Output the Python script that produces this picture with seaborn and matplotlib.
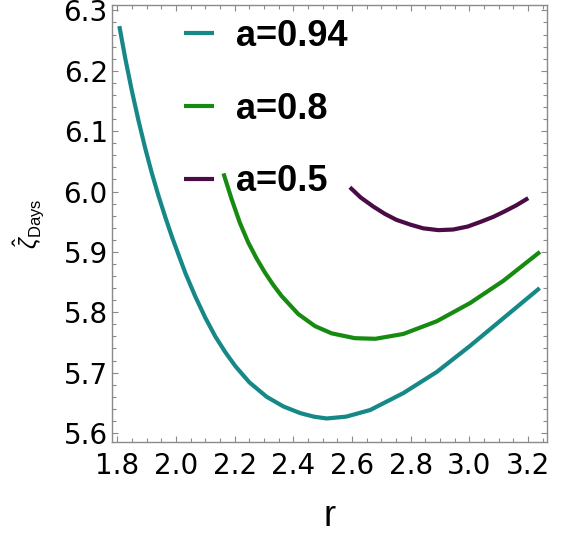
import numpy as np
import pandas as pd
import matplotlib
matplotlib.use("Agg")
import matplotlib.pyplot as plt
from matplotlib.ticker import MultipleLocator
import seaborn as sns

# ---- data ----
r_094 = [1.807, 1.827, 1.850, 1.873, 1.895, 1.918, 1.941, 1.964, 1.987, 2.009, 2.032,
         2.066, 2.100, 2.134, 2.168, 2.202, 2.250, 2.309, 2.366, 2.423, 2.470, 2.514,
         2.580, 2.662, 2.775, 2.889, 3.002, 3.116, 3.240]
z_094 = [6.274, 6.221, 6.166, 6.116, 6.072, 6.030, 5.992, 5.957, 5.924, 5.895, 5.865,
         5.826, 5.791, 5.760, 5.734, 5.711, 5.684, 5.660, 5.644, 5.633, 5.627, 5.624,
         5.627, 5.638, 5.666, 5.701, 5.744, 5.790, 5.840]

r_08 = [2.162, 2.190, 2.218, 2.246, 2.275, 2.303, 2.332, 2.360, 2.417, 2.474, 2.531,
        2.610, 2.680, 2.775, 2.889, 3.002, 3.116, 3.241]
z_08 = [6.030, 5.987, 5.948, 5.916, 5.889, 5.866, 5.845, 5.827, 5.797, 5.777, 5.765,
        5.757, 5.756, 5.764, 5.785, 5.815, 5.852, 5.900]

r_05 = [2.593, 2.630, 2.673, 2.712, 2.752, 2.800, 2.843, 2.895, 2.945, 2.995, 3.040,
        3.082, 3.116, 3.160, 3.201]
z_05 = [6.007, 5.990, 5.975, 5.963, 5.953, 5.945, 5.939, 5.936, 5.937, 5.942, 5.950,
        5.958, 5.966, 5.977, 5.989]

labels = ["a=0.94", "a=0.8", "a=0.5"]
colors = ["#168888", "#178a12", "#4a0c46"]

x_ticks = [1.8, 2.0, 2.2, 2.4, 2.6, 2.8, 3.0, 3.2]
y_ticks = [5.6, 5.7, 5.8, 5.9, 6.0, 6.1, 6.2, 6.3]

df = pd.concat([
    pd.DataFrame({"r": r_094, "z": z_094, "a": labels[0]}),
    pd.DataFrame({"r": r_08, "z": z_08, "a": labels[1]}),
    pd.DataFrame({"r": r_05, "z": z_05, "a": labels[2]}),
], ignore_index=True)

sns.set_style("white")
plt.rcParams["font.family"] = ["Liberation Sans", "DejaVu Sans"]
plt.rcParams["mathtext.fontset"] = "custom"
plt.rcParams["mathtext.rm"] = "Liberation Sans"
plt.rcParams["mathtext.it"] = "Liberation Sans:italic"
plt.rcParams["text.color"] = "black"
plt.rcParams["axes.labelcolor"] = "black"

fig = plt.figure(figsize=(5.75, 5.35), dpi=100)
ax = fig.add_axes([0.1948, 0.1738, 0.7565, 0.8169])

sns.lineplot(data=df, x="r", y="z", hue="a", palette=dict(zip(labels, colors)),
             hue_order=labels, sort=False, estimator=None, linewidth=3.0, ax=ax)
for ln in ax.get_lines():
    ln.set_solid_joinstyle("round")
    ln.set_solid_capstyle("butt")

ax.set_xlim(1.782, 3.265)
ax.set_ylim(5.585, 6.309)
ax.set_xticks(x_ticks)
ax.set_yticks(y_ticks)
ax.set_xticklabels([f"{v:.1f}" for v in x_ticks])
ax.set_yticklabels([f"{v:.1f}" for v in y_ticks])
ax.xaxis.set_minor_locator(MultipleLocator(0.05))
ax.yaxis.set_minor_locator(MultipleLocator(0.02))

grey = "#8a8a8a"
for s in ax.spines.values():
    s.set_color(grey)
    s.set_linewidth(1.0)
ax.tick_params(which="both", direction="in", top=True, right=True, bottom=True,
               left=True, color=grey, width=0.8, labelcolor="black")
ax.tick_params(which="major", length=4.5)
ax.tick_params(which="minor", length=2.7)
ax.tick_params(axis="x", which="major", pad=7)
ax.tick_params(axis="y", which="major", pad=3)
for t in ax.get_xticklabels() + ax.get_yticklabels():
    t.set_fontfamily("DejaVu Sans")
    t.set_fontsize(20)

ax.set_xlabel("r", fontsize=26, labelpad=14)
ax.set_ylabel(r"$\hat{\zeta}_{\mathrm{Days}}$", fontsize=17, labelpad=13)

leg = ax.legend(loc="upper left", bbox_to_anchor=(0.158, 0.977), frameon=False,
                prop={"weight": "bold", "size": 26}, handlelength=0.83,
                handletextpad=0.6, labelspacing=1.05, borderpad=0.1,
                borderaxespad=0.0)
for line in leg.get_lines():
    line.set_linewidth(3.0)

fig.savefig("out.png", dpi=100)
